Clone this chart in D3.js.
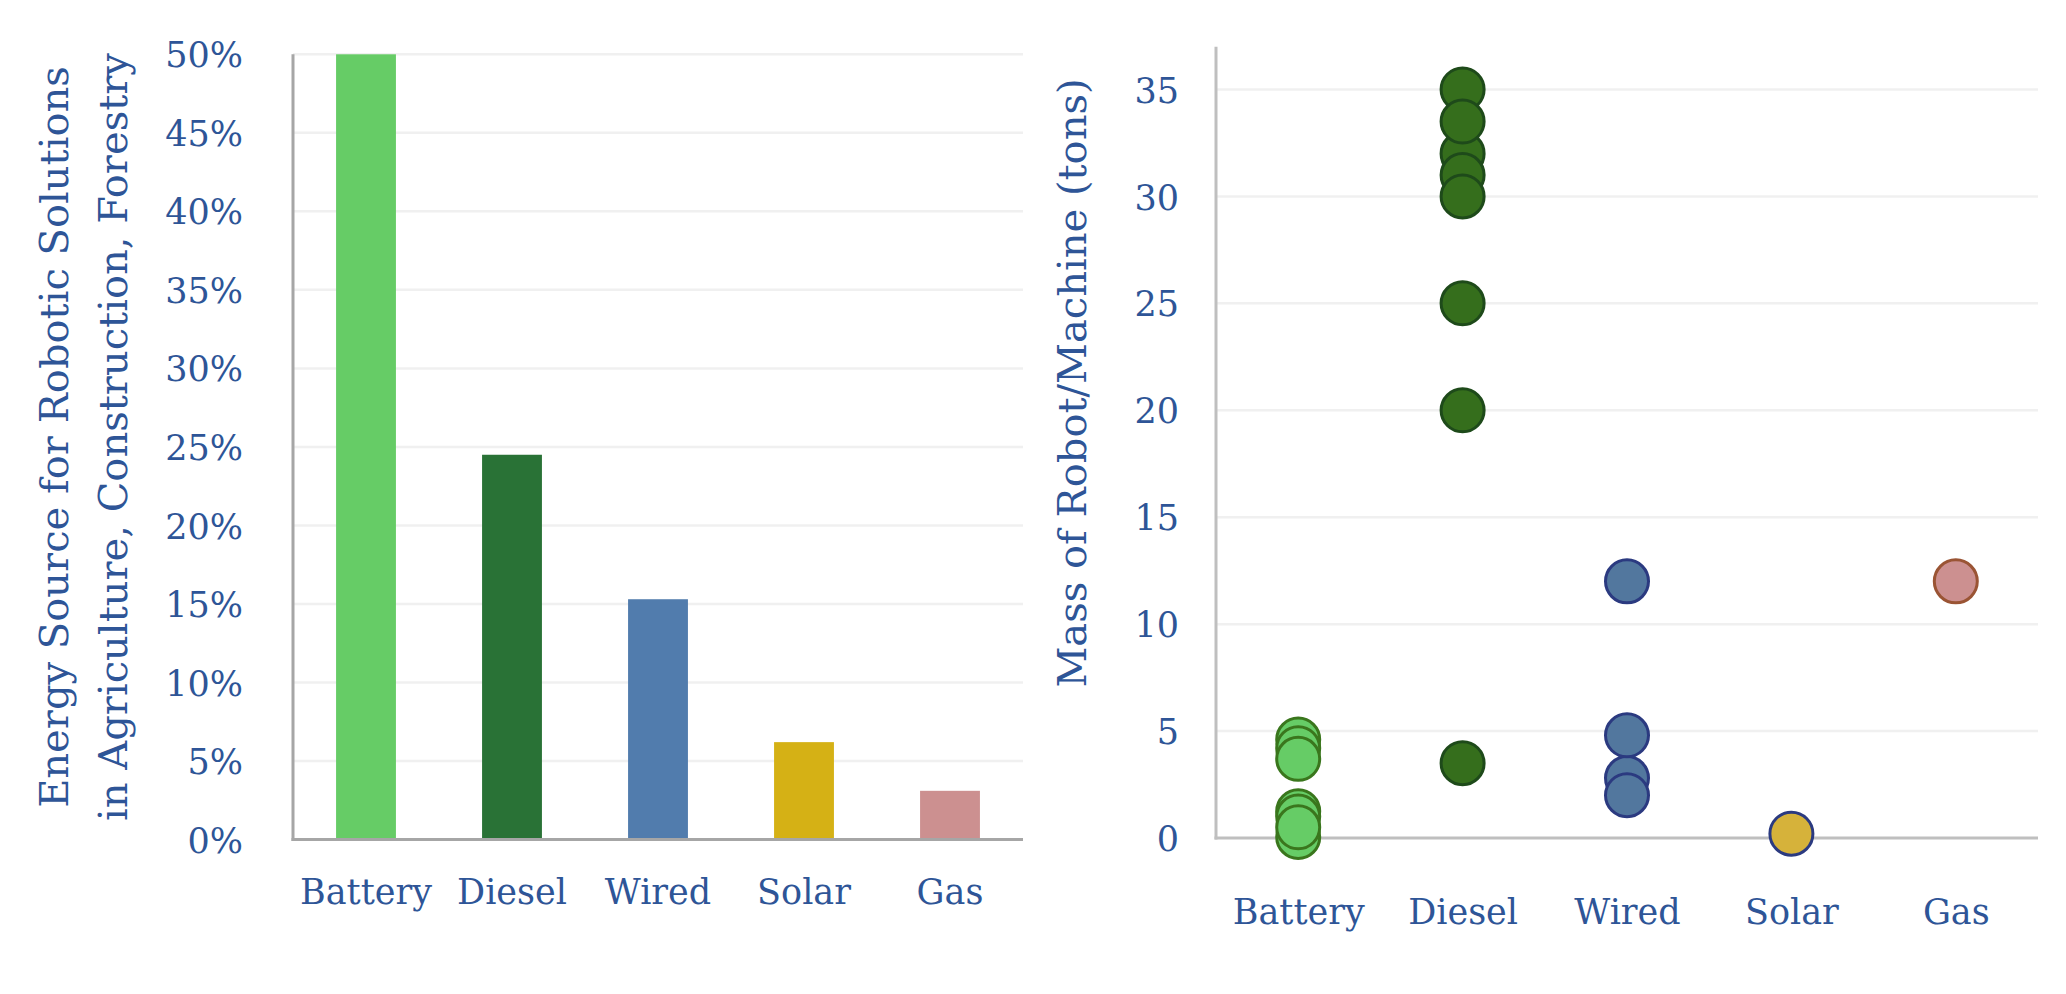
<!DOCTYPE html>
<html>
<head>
<meta charset="utf-8">
<script src="https://cdn.jsdelivr.net/npm/d3@7/dist/d3.min.js"></script>
<style>
  html, body { margin: 0; padding: 0; background: #ffffff; }
  svg { display: block; }
  text { font-family: "DejaVu Serif", "Liberation Serif", serif; fill: #2E5597; }
</style>
</head>
<body>
<svg id="chart" width="2066" height="994"></svg>
<script>
// ---------- data ----------
const categories = ["Battery", "Diesel", "Wired", "Solar", "Gas"];
const sharePct = [50, 24.5, 15.3, 6.2, 3.1];          // % of robotic solutions
const pctTicks = [0, 5, 10, 15, 20, 25, 30, 35, 40, 45, 50];
const pctTickLabels = ["0%", "5%", "10%", "15%", "20%", "25%", "30%", "35%", "40%", "45%", "50%"];

const batteryMass = [4.6, 4.2, 3.7, 1.25, 1.0, 0.05, 0.5];
const dieselMass = [35, 32, 33.5, 31, 30, 25, 20, 3.5];
const wiredMass = [12, 2.8, 4.8, 2.0];
const solarMass = [0.2];
const gasMass = [12];
const massTicks = [0, 5, 10, 15, 20, 25, 30, 35];
const massTickLabels = ["0", "5", "10", "15", "20", "25", "30", "35"];

const leftTitle = ["Energy Source for Robotic Solutions", "in Agriculture, Construction, Forestry"];
const rightTitle = "Mass of Robot/Machine (tons)";

// ---------- styles ----------
const barColors = ["#66CC66", "#297236", "#517CAD", "#D5B115", "#CC9090"];
const dotFill = ["#66CC66", "#356E1C", "#52779E", "#D6B23A", "#CC9090"];
const dotStroke = ["#3A761D", "#1E4A1A", "#2B3A80", "#2B3A80", "#9A5434"];

const svg = d3.select("#chart");

// ================= LEFT: bar chart =================
const L = { x0: 293, x1: 1023, y0: 839.5, y1: 54.3 };
const xL = d3.scaleBand().domain(categories).range([L.x0, L.x1]).paddingInner(0.59).paddingOuter(0.295);
const yL = d3.scaleLinear().domain([0, 50]).range([L.y0, L.y1]);

const gL = svg.append("g");
// gridlines
gL.selectAll("line.grid").data(pctTicks.filter(d => d > 0)).enter().append("line")
  .attr("x1", L.x0).attr("x2", L.x1)
  .attr("y1", d => yL(d)).attr("y2", d => yL(d))
  .attr("stroke", "#F0F0F0").attr("stroke-width", 2.5);
// bars
gL.selectAll("rect.bar").data(categories).enter().append("rect")
  .attr("x", d => xL(d)).attr("width", xL.bandwidth())
  .attr("y", (d, i) => yL(sharePct[i]))
  .attr("height", (d, i) => yL(0) - yL(sharePct[i]))
  .attr("fill", (d, i) => barColors[i]);
// axes lines
gL.append("line").attr("x1", L.x0).attr("x2", L.x0).attr("y1", L.y1).attr("y2", L.y0 + 1.5)
  .attr("stroke", "#A6A6A6").attr("stroke-width", 3);
gL.append("line").attr("x1", L.x0 - 1.5).attr("x2", L.x1).attr("y1", L.y0).attr("y2", L.y0)
  .attr("stroke", "#A6A6A6").attr("stroke-width", 3);
// y tick labels
const yAxisL = d3.axisLeft(yL).tickValues(pctTicks).tickFormat((d, i) => pctTickLabels[i]).tickSize(0).tickPadding(0);
const axL = gL.append("g").attr("transform", `translate(${243},0)`).call(yAxisL);
axL.select(".domain").remove();
axL.selectAll("text").attr("font-family", "DejaVu Serif").attr("font-size", 35).attr("fill", "#2E5597")
  .attr("dy", "0.36em");
// x labels
const xAxisL = d3.axisBottom(xL).tickSize(0).tickPadding(0);
const axXL = gL.append("g").attr("transform", `translate(0,${904})`).call(xAxisL);
axXL.select(".domain").remove();
axXL.selectAll("text").attr("font-family", "DejaVu Serif").attr("font-size", 35).attr("fill", "#2E5597")
  .attr("dy", 0).attr("y", 0);
// title
const midL = 437;
gL.append("text").attr("transform", `translate(68,${midL}) rotate(-90)`).attr("text-anchor", "middle")
  .attr("font-size", 40).text(leftTitle[0]);
gL.append("text").attr("transform", `translate(127,${midL}) rotate(-90)`).attr("text-anchor", "middle")
  .attr("font-size", 40).text(leftTitle[1]);

// ================= RIGHT: dot chart =================
const R = { x0: 1216, x1: 2038, y0: 838, y1: 46.7 };
const xR = d3.scalePoint().domain(categories).range([R.x0, R.x1]).padding(0.5);
const yR = d3.scaleLinear().domain([0, 37]).range([R.y0, R.y1]);

const gR = svg.append("g");
gR.selectAll("line.grid").data(massTicks.filter(d => d > 0)).enter().append("line")
  .attr("x1", R.x0).attr("x2", R.x1)
  .attr("y1", d => yR(d)).attr("y2", d => yR(d))
  .attr("stroke", "#F0F0F0").attr("stroke-width", 2.5);
gR.append("line").attr("x1", R.x0).attr("x2", R.x0).attr("y1", R.y1).attr("y2", R.y0 + 1.5)
  .attr("stroke", "#BFBFBF").attr("stroke-width", 3);
gR.append("line").attr("x1", R.x0 - 1.5).attr("x2", R.x1).attr("y1", R.y0).attr("y2", R.y0)
  .attr("stroke", "#BFBFBF").attr("stroke-width", 3);

const massSeries = [batteryMass, dieselMass, wiredMass, solarMass, gasMass];
const points = [];
massSeries.forEach((arr, i) => arr.forEach(v => points.push({ cat: categories[i], i, v })));
gR.selectAll("circle.dot").data(points).enter().append("circle")
  .attr("cx", d => xR(d.cat)).attr("cy", d => yR(d.v)).attr("r", 21.5)
  .attr("fill", d => dotFill[d.i]).attr("stroke", d => dotStroke[d.i]).attr("stroke-width", 3);

const yAxisR = d3.axisLeft(yR).tickValues(massTicks).tickFormat((d, i) => massTickLabels[i]).tickSize(0).tickPadding(0);
const axR = gR.append("g").attr("transform", `translate(${1179},0)`).call(yAxisR);
axR.select(".domain").remove();
axR.selectAll("text").attr("font-family", "DejaVu Serif").attr("font-size", 35).attr("fill", "#2E5597")
  .attr("dy", "0.36em");
const xAxisR = d3.axisBottom(xR).tickSize(0).tickPadding(0);
const axXR = gR.append("g").attr("transform", `translate(0,${924})`).call(xAxisR);
axXR.select(".domain").remove();
axXR.selectAll("text").attr("font-family", "DejaVu Serif").attr("font-size", 35).attr("fill", "#2E5597")
  .attr("dy", 0).attr("y", 0);
gR.append("text").attr("transform", `translate(1086,383) rotate(-90)`).attr("text-anchor", "middle")
  .attr("font-size", 40).text(rightTitle);
</script>
</body>
</html>
